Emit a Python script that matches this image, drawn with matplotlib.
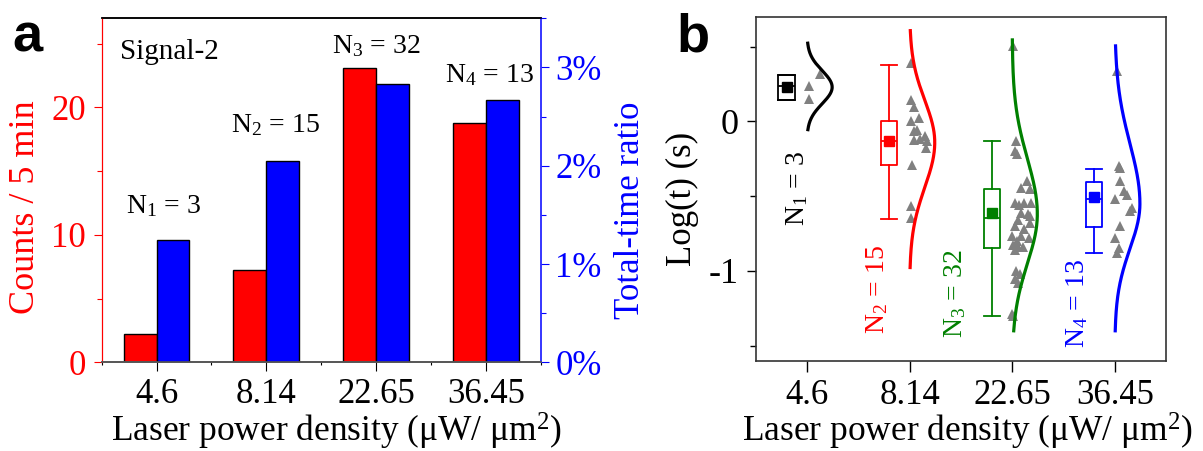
import numpy as np
import matplotlib
matplotlib.use("Agg")
import matplotlib.pyplot as plt
from matplotlib.ticker import FixedLocator, MultipleLocator

plt.rcParams['font.family'] = 'Liberation Serif'
plt.rcParams['mathtext.fontset'] = 'custom'
plt.rcParams['mathtext.rm'] = 'Liberation Serif'
plt.rcParams['mathtext.it'] = 'Liberation Serif:italic'
plt.rcParams['axes.unicode_minus'] = False

# ---------------- data ----------------
power = ['4.6', '8.14', '22.65', '36.45']
n_events = [3, 15, 32, 13]
counts = [2.2, 7.27, 23.1, 18.8]        # counts / 5 min
ratio = [1.24, 2.05, 2.83, 2.67]        # total-time ratio (%)

# panel b: log(t) of every event, with the small sideways offset of each marker
logt_1 = [0.318, 0.238, 0.149]
dx_1 = [0.13, 0.016, 0.016]
logt_2 = [0.39, 0.145, 0.096, 0.02, 0.0, -0.055, -0.066, -0.10, -0.115, -0.122,
          -0.133, -0.18, -0.289, -0.566, -0.644]
dx_2 = [0.01, 0.01, 0.04, 0.09, 0.01, 0.075, 0.04, 0.15, 0.10, 0.04,
        0.17, 0.16, 0.02, 0.01, 0.01]
logt_3 = [0.507, -0.128, -0.195, -0.215, -0.40, -0.444, -0.455, -0.544, -0.544, -0.544,
          -0.56, -0.611, -0.62, -0.633, -0.656, -0.678, -0.70, -0.72, -0.767, -0.767,
          -0.778, -0.80, -0.829, -0.84, -0.84, -0.86, -1.0, -1.022, -1.055, -1.078,
          -1.29, -1.30]
dx_3 = [0.01, 0.04, 0.03, 0.05, 0.14, 0.09, 0.17, 0.03, 0.12, 0.18,
        0.07, 0.09, 0.15, 0.17, 0.06, 0.17, 0.03, 0.12, 0.00, 0.09,
        0.16, 0.05, 0.01, 0.06, 0.11, 0.03, 0.04, 0.08, 0.03, 0.06,
        0.00, 0.01]
logt_4 = [0.34, -0.30, -0.31, -0.40, -0.467, -0.489, -0.522, -0.578, -0.60, -0.70,
          -0.778, -0.844, -0.878]
dx_4 = [0.017, 0.04, 0.05, 0.055, 0.09, 0.12, 0.007, 0.17, 0.15, 0.055,
        0.007, 0.04, 0.023]

# box statistics
box_q1 = [0.14, -0.289, -0.849, -0.704]
box_q3 = [0.311, 0.0, -0.451, -0.407]
box_med = [0.238, -0.133, -0.644, -0.522]
box_mean = [0.229, -0.133, -0.611, -0.504]
whis_lo = [0.14, -0.655, -1.30, -0.877]
whis_hi = [0.311, 0.378, -0.129, -0.315]

# fitted distribution curves: centre, upper / lower spread, drawn range
fit_mu = [0.229, -0.14, -0.62, -0.55]
fit_sd_up = [0.11, 0.28, 0.37, 0.40]
fit_sd_dn = [0.11, 0.30, 0.33, 0.30]
fit_top = [0.523, 0.607, 0.545, 0.505]
fit_bot = [-0.055, -0.977, -1.40, -1.40]

colors = ['black', 'red', 'green', 'blue']
FS = 25
XL = 'Laser power density (\u03bcW/ \u03bcm$^2$)'

fig = plt.figure(figsize=(12.03, 4.51), dpi=100)

# ---------------- panel a ----------------
ax = fig.add_axes([0.0845, 0.1967, 0.3649, 0.7627])
ax2 = ax.twinx()
x = np.arange(len(power))
w = 0.3
ax.bar(x - w/2, counts, w, color='red', edgecolor='black', linewidth=1.0, zorder=2)
ax2.bar(x + w/2, ratio, w, color='blue', edgecolor='black', linewidth=1.0, zorder=2)

ax.set_xlim(-0.5, 3.5)
ax.set_ylim(0, 27)
ax2.set_ylim(0, 3.5)

ax.set_xticks(x)
ax.set_xticklabels(power, fontsize=FS)
ax.xaxis.set_minor_locator(FixedLocator([-0.5, 0.5, 1.5, 2.5, 3.5]))
ax.tick_params(axis='x', which='major', direction='out', length=6.5, width=0.8, pad=5)
ax.tick_params(axis='x', which='minor', direction='out', length=2.5, width=0.8)
ax2.tick_params(axis='x', which='both', top=True, bottom=False, direction='in',
                length=5, width=0.8, labeltop=False, labelbottom=False)

ax.set_yticks([0, 10, 20])
ax.yaxis.set_minor_locator(MultipleLocator(5))
ax.tick_params(axis='y', which='both', colors='red', labelsize=FS, width=0.8, pad=6)
ax.tick_params(axis='y', which='major', length=5.5)
ax.tick_params(axis='y', which='minor', length=3.5)

ax2.set_yticks([0, 1, 2, 3])
ax2.set_yticklabels(['%g%%' % v for v in [0, 1, 2, 3]])
ax2.yaxis.set_minor_locator(MultipleLocator(0.5))
ax2.tick_params(axis='y', which='both', colors='blue', labelsize=FS, width=0.8, pad=5)
ax2.tick_params(axis='y', which='major', length=5.5)
ax2.tick_params(axis='y', which='minor', length=3.5)

for a in (ax, ax2):
    a.spines['left'].set_color('red')
    a.spines['left'].set_linewidth(0.8)
    a.spines['right'].set_color('#3030ff')
    a.spines['right'].set_linewidth(1.1)
    a.spines['top'].set_color('black')
    a.spines['top'].set_linewidth(1.1)
    a.spines['bottom'].set_color('#555555')
    a.spines['bottom'].set_linewidth(1.2)

ax.set_ylabel('Counts / 5 min', color='red', fontsize=FS + 1, va='center')
ax.yaxis.set_label_coords(-0.1736, 0.4515)
ax2.set_ylabel('Total-time ratio', color='blue', fontsize=FS, va='center')
ax2.yaxis.set_label_coords(1.2057, 0.443)
ax.set_xlabel(XL, fontsize=FS + 0.5, va='baseline')
ax.xaxis.set_label_coords(0.535, -0.230)

ax.text(-0.334, 23.8, 'Signal-2', fontsize=21, ha='left', va='baseline')
lab_x = [0.06, 1.085, 2.0, 3.03]
lab_y = [11.7, 18.1, 24.26, 22.0]
for i, n in enumerate(n_events):
    ax.text(lab_x[i], lab_y[i], 'N$_{%d}$ = %d' % (i + 1, n), fontsize=20,
            ha='center', va='baseline')

# ---------------- panel b ----------------
bx = fig.add_axes([0.6282, 0.2002, 0.3411, 0.7627])
groups_y = [logt_1, logt_2, logt_3, logt_4]
groups_dx = [dx_1, dx_2, dx_3, dx_4]
peak = 0.245
for i in range(4):
    stats = [dict(med=box_med[i], q1=box_q1[i], q3=box_q3[i], whislo=whis_lo[i],
                  whishi=whis_hi[i], mean=box_mean[i], fliers=[])]
    c = colors[i]
    bx.bxp(stats, positions=[i - 0.2], widths=0.156, capwidths=0.156, showmeans=True,
           boxprops=dict(color=c, linewidth=1.3),
           whiskerprops=dict(color=c, linewidth=1.3),
           capprops=dict(color=c, linewidth=1.3),
           medianprops=dict(color=c, linewidth=1.3),
           meanprops=dict(marker='s', markerfacecolor=c, markeredgecolor=c, markersize=7),
           manage_ticks=False)
    bx.plot(i + np.array(groups_dx[i]), groups_y[i], '^', color='#808080',
            markersize=7, markeredgewidth=0, zorder=3)
    yy = np.linspace(fit_bot[i], fit_top[i], 300)
    sd = np.where(yy > fit_mu[i], fit_sd_up[i], fit_sd_dn[i])
    xx = i + peak * np.exp(-0.5 * ((yy - fit_mu[i]) / sd) ** 2)
    bx.plot(xx, yy, color=c, linewidth=2.3, zorder=4)

nlab_x = [-0.1, 0.68, 1.44, 2.63]
nlab_y = [-0.45, -1.125, -1.155, -1.22]
for i, n in enumerate(n_events):
    bx.text(nlab_x[i], nlab_y[i], 'N$_{%d}$ = %d' % (i + 1, n), fontsize=20,
            color=colors[i], rotation=90, ha='center', va='center')

bx.set_xlim(-0.5, 3.5)
bx.set_ylim(-1.6, 0.7)
bx.set_xticks(x)
bx.set_xticklabels(power, fontsize=FS)
bx.yaxis.set_major_locator(MultipleLocator(1))
bx.yaxis.set_minor_locator(MultipleLocator(0.5))
bx.tick_params(axis='y', which='major', labelsize=FS + 1, length=6.5, width=1.0, pad=6)
bx.tick_params(axis='y', which='minor', length=4, width=1.0)
bx.tick_params(axis='x', which='major', length=8, width=1.0, pad=5)
for s in bx.spines.values():
    s.set_color('#333333')
    s.set_linewidth(1.2)

bx.set_ylabel('Log(t) (s)', fontsize=FS, va='center')
bx.yaxis.set_label_coords(-0.1796, 0.4715)
bx.set_xlabel(XL, fontsize=FS + 0.5, va='baseline')
bx.xaxis.set_label_coords(0.516, -0.235)

fig.text(12.7 / 1203, 1 - 51.7 / 451, 'a', fontsize=39, fontweight='bold',
         family='Liberation Sans', ha='left', va='baseline')
fig.text(676.7 / 1203, 1 - 51.7 / 451, 'b', fontsize=39, fontweight='bold',
         family='Liberation Sans', ha='left', va='baseline')

fig.savefig('out.png', dpi=100)
